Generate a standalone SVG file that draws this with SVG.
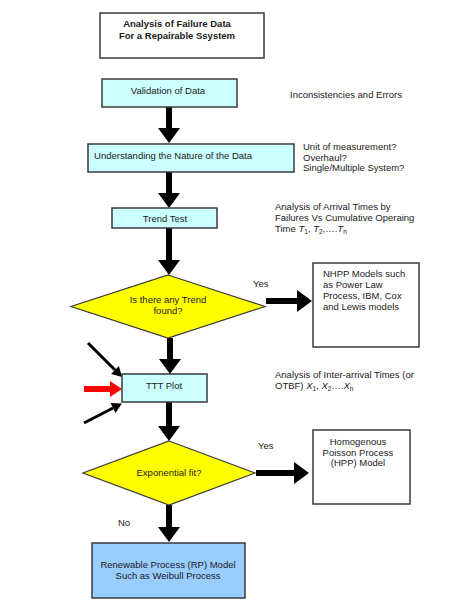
<svg xmlns="http://www.w3.org/2000/svg" width="468" height="606" viewBox="0 0 468 606">
<style>
text{font-family:"Liberation Sans",Arial,sans-serif;font-size:9.5px;fill:#1a1a1a}
.c{text-anchor:middle}
.b{font-weight:bold}
.box{stroke:#3a3a3a;stroke-width:1.5}
.cyan{fill:#ccffff}
.dia{fill:#ffff00;stroke:#3a3a3a;stroke-width:1.2}
.arr{stroke:#000;stroke-width:6;fill:none}
.thin{stroke:#000;stroke-width:3;fill:none}
.red{stroke:#ff0000;stroke-width:6;fill:none}
.it{font-style:italic}
</style>
<defs>
<marker id="ah" viewBox="0 -11 15 22" markerWidth="15" markerHeight="22" refX="0" refY="0" markerUnits="userSpaceOnUse" orient="auto" overflow="visible"><path d="M0,-11 L15,0 L0,11 Z" fill="#000"/></marker>
<marker id="ahs" viewBox="0 -5.5 10 11" markerWidth="10" markerHeight="11" refX="0" refY="0" markerUnits="userSpaceOnUse" orient="auto" overflow="visible"><path d="M0,-5.5 L10,0 L0,5.5 Z" fill="#000"/></marker>
<marker id="ahr" viewBox="0 -8 12 16" markerWidth="12" markerHeight="16" refX="0" refY="0" markerUnits="userSpaceOnUse" orient="auto" overflow="visible"><path d="M0,-8 L12,0 L0,8 Z" fill="#ff0000"/></marker>
</defs>
<rect width="468" height="606" fill="#fff"/>
<g id="connectors">
<line class="arr" x1="169" y1="107" x2="169" y2="128" marker-end="url(#ah)"/>
<line class="arr" x1="169" y1="172" x2="169" y2="193" marker-end="url(#ah)"/>
<line class="arr" x1="169" y1="228" x2="169" y2="260" marker-end="url(#ah)"/>
<line class="arr" x1="266" y1="301" x2="297" y2="301" marker-end="url(#ah)"/>
<line class="arr" x1="170" y1="338" x2="170" y2="359" marker-end="url(#ah)"/>
<line class="thin" x1="88" y1="343" x2="115" y2="370" marker-end="url(#ahs)"/>
<line class="red" x1="84" y1="389" x2="110" y2="389" marker-end="url(#ahr)"/>
<line class="thin" x1="84" y1="423" x2="113" y2="408" marker-end="url(#ahs)"/>
<line class="arr" x1="169" y1="402" x2="169" y2="426" marker-end="url(#ah)"/>
<line class="arr" x1="256" y1="473" x2="294" y2="473" marker-end="url(#ah)"/>
<line class="arr" x1="169" y1="505" x2="169" y2="527" marker-end="url(#ah)"/>
<text x="253" y="287">Yes</text>
<text x="258" y="449">Yes</text>
<text x="118" y="526">No</text>
</g>
<g id="title">
<rect class="box" x="100" y="13" width="164" height="45" fill="#fff"/>
<text class="c b" x="177" y="27">Analysis of Failure Data</text>
<text class="c b" x="177" y="39">For a Repairable Ssystem</text>
</g>
<g id="validation">
<rect class="box cyan" x="102" y="79" width="135" height="28"/>
<text class="c" x="168" y="94">Validation of Data</text>
</g>
<text id="note1" x="290" y="98">Inconsistencies and Errors</text>
<g id="understanding">
<rect class="box cyan" x="88" y="144" width="206" height="28"/>
<text class="c" x="173" y="159">Understanding the Nature of the Data</text>
</g>
<g id="note2">
<text x="303" y="150">Unit of measurement?</text>
<text x="303" y="160.5">Overhaul?</text>
<text x="303" y="171">Single/Multiple System?</text>
</g>
<g id="trend">
<rect class="box cyan" x="112" y="208" width="105" height="20"/>
<text class="c" x="165" y="222">Trend Test</text>
</g>
<g id="note3">
<text x="275" y="210">Analysis of Arrival Times by</text>
<text x="275" y="221">Failures Vs Cumulative Operaing</text>
<text x="275" y="232">Time <tspan class="it">T</tspan><tspan font-size="6.5" dy="2">1</tspan><tspan dy="-2">, </tspan><tspan class="it">T</tspan><tspan font-size="6.5" dy="2">2</tspan><tspan dy="-2">,….</tspan><tspan class="it">T</tspan><tspan font-size="6.5" dy="2">n</tspan></text>
</g>
<g id="trendq">
<polygon class="dia" points="168,275 265,306.5 168,338 71,306.5"/>
<text class="c" x="168" y="303">Is there any Trend</text>
<text class="c" x="168" y="313.5">found?</text>
</g>
<g id="nhpp">
<rect class="box" x="313" y="263" width="106" height="84" fill="#fff"/>
<text x="323" y="277">NHPP Models such</text>
<text x="323" y="288">as Power Law</text>
<text x="323" y="299">Process, IBM, Cox</text>
<text x="323" y="310">and Lewis models</text>
</g>
<g id="ttt">
<rect class="box cyan" x="122" y="374" width="85" height="28"/>
<text class="c" x="164" y="389">TTT Plot</text>
</g>
<g id="note4">
<text x="275" y="378">Analysis of Inter-arrival Times (or</text>
<text x="275" y="389">OTBF) <tspan class="it">X</tspan><tspan font-size="6.5" dy="2">1</tspan><tspan dy="-2">, </tspan><tspan class="it">X</tspan><tspan font-size="6.5" dy="2">2</tspan><tspan dy="-2">….</tspan><tspan class="it">X</tspan><tspan font-size="6.5" dy="2">n</tspan></text>
</g>
<g id="expq">
<polygon class="dia" points="169,441 255,473 169,505 83,473"/>
<text class="c" x="169" y="476">Exponential fit?</text>
</g>
<g id="hpp">
<rect class="box" x="313" y="430" width="97" height="74" fill="#fff"/>
<text class="c" x="358" y="445">Homogenous</text>
<text class="c" x="358" y="455.5">Poisson Process</text>
<text class="c" x="358" y="466">(HPP) Model</text>
</g>
<g id="rp">
<rect class="box" x="92" y="543" width="153" height="55" fill="#99ccff"/>
<text class="c" x="168" y="568">Renewable Process (RP) Model</text>
<text class="c" x="168" y="579">Such as Weibull Process</text>
</g>
</svg>
